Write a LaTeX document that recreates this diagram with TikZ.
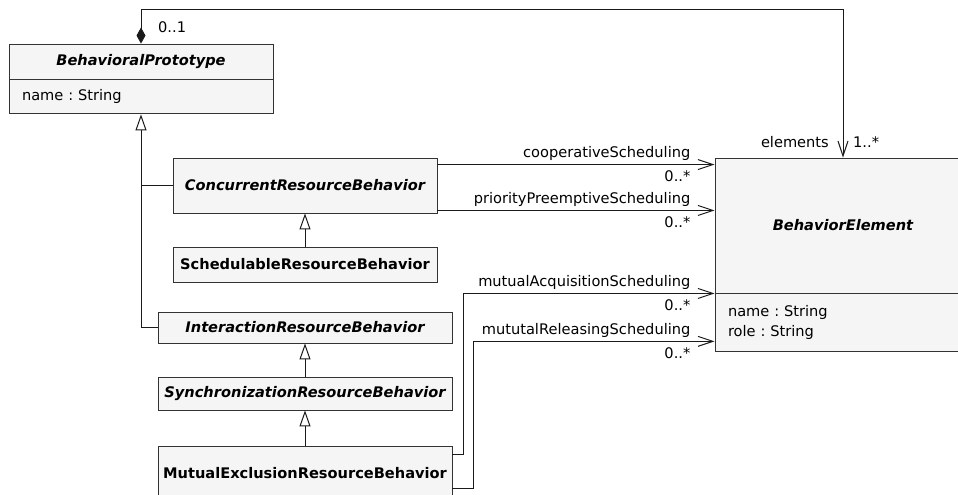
\documentclass[tikz,border=0pt]{standalone}
\usepackage{fontspec}
\setmainfont{DejaVu Sans}
\usetikzlibrary{arrows.meta}
\frenchspacing

\definecolor{linegray}{HTML}{1A1A1A}
\definecolor{boxline}{HTML}{333333}
\definecolor{boxgray}{HTML}{F5F5F5}

\tikzset{
  every node/.style={font=\fontsize{14.6}{20}\selectfont},
  classbox/.style={draw=boxline, fill=boxgray, line width=0.9pt, inner sep=0pt},
  attrbox/.style={classbox, align=left, inner xsep=13pt},
  lbl/.style={inner sep=0pt},
  plain/.style={draw=linegray, line width=1pt},
  assoc/.style={plain, -{Straight Barb[length=15pt,width=10pt]}},
  gen/.style={plain, -{Triangle[open,fill=white,length=16pt,width=11pt]}},
  comp/.style={plain, {Diamond[length=16pt,width=9pt]}-{Straight Barb[length=15pt,width=10pt]}}
}

\begin{document}
\begin{tikzpicture}[x=1pt, y=-1pt]
        \path[use as bounding box, clip] (0,0) rectangle (958,495);

        % classes on the left
        \node[classbox, minimum width=264pt, minimum height=35pt] (bptitle) at (141,61.5) {\bfseries\itshape BehavioralPrototype};
        \node[attrbox, text width=238pt, minimum height=34pt, anchor=north] (bpattr) at (bptitle.south) {name : String};

        \node[classbox, minimum width=264pt, minimum height=55pt] (conc) at (305,185.5) {\bfseries\itshape ConcurrentResourceBehavior};
        \node[classbox, minimum width=264pt, minimum height=35pt] (sched) at (305,264.5) {\bfseries SchedulableResourceBehavior};
        \node[classbox, minimum width=294pt, minimum height=31pt] (inter) at (305,327.5) {\bfseries\itshape InteractionResourceBehavior};
        \node[classbox, minimum width=294pt, minimum height=33pt] (sync) at (305,393.5) {\bfseries\itshape SynchronizationResourceBehavior};
        \node[classbox, minimum width=294pt, minimum height=54pt] (mutex) at (305,473) {\bfseries MutualExclusionResourceBehavior};

        % class on the right
        \node[classbox, minimum width=256pt, minimum height=135pt] (betitle) at (843,225.5) {\bfseries\itshape BehaviorElement};
        \node[attrbox, text width=230pt, minimum height=58pt, anchor=north] (beattr) at (betitle.south) {name : String\\role : String};

        % generalizations
        \draw[gen] (inter.west) -| (bpattr.south);
        \draw[plain] (conc.west) -- (conc.west -| bpattr.south);
        \draw[gen] (sched.north) -- (conc.south);
        \draw[gen] (sync.north) -- (inter.south);
        \draw[gen] (mutex.north) -- (sync.south);

        % composition
        \draw[comp] (bptitle.north) -- ++(0,-34) -| (betitle.north);
        \node[lbl, anchor=west] (bpmult) at (158,27) {0..1};
        \node[lbl, anchor=east] (elemrole) at (829,142) {elements};
        \node[lbl, anchor=west] (elemmult) at (853,142) {1..*};

        % associations
        \draw[assoc] ([yshift=-7pt]conc.north east) coordinate (coopstart) -- (coopstart -| betitle.west) coordinate (coopend);
        \node[lbl, anchor=south east] (cooplbl) at ([xshift=-24pt,yshift=4pt]coopend) {cooperativeScheduling};
        \node[lbl, anchor=north east] (coopmult) at ([xshift=-24pt,yshift=-6pt]coopend) {0..*};

        \draw[assoc] ([yshift=3pt]conc.south east) coordinate (priostart) -- (priostart -| betitle.west) coordinate (prioend);
        \node[lbl, anchor=south east] (priolbl) at ([xshift=-24pt,yshift=4pt]prioend) {priorityPreemptiveScheduling};
        \node[lbl, anchor=north east] (priomult) at ([xshift=-24pt,yshift=-6pt]prioend) {0..*};

        \draw[assoc] ([yshift=-9pt]mutex.north east) -- ++(11,0) |- (betitle.south west);
        \node[lbl, anchor=south east] (acqlbl) at ([xshift=-24pt,yshift=4pt]betitle.south west) {mutualAcquisitionScheduling};
        \node[lbl, anchor=north east] (acqmult) at ([xshift=-24pt,yshift=-6pt]betitle.south west) {0..*};

        \draw[assoc] ([yshift=-43pt]mutex.north east) -- ++(21,0) |- ([yshift=11pt]beattr.south west) coordinate (relend);
        \node[lbl, anchor=south east] (rellbl) at ([xshift=-24pt,yshift=4pt]relend) {mututalReleasingScheduling};
        \node[lbl, anchor=north east] (relmult) at ([xshift=-24pt,yshift=-6pt]relend) {0..*};
      \end{tikzpicture}
\end{document}
